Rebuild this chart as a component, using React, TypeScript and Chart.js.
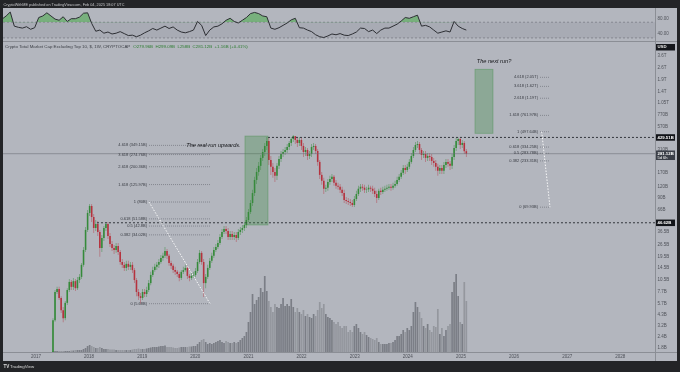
import React, { useEffect, useRef } from "react";
import { Chart, registerables } from "chart.js";

Chart.register(...registerables);
const FONT = "'Liberation Sans', 'DejaVu Sans', Arial, sans-serif";
Chart.defaults.font.family = FONT;

// ---------- axes ----------
const X_MIN = 2016.3788;
const X_MAX = 2028.6529;
const YEAR_TICKS = [2017, 2018, 2019, 2020, 2021, 2022, 2023, 2024, 2025, 2026, 2027, 2028];
const PRICE_MIN = 1.6156;
const PRICE_MAX = 5141;
const PRICE_TICKS = [1.8, 2.4, 3.2, 4.3, 5.7, 7.7, 10.5, 14.5, 19.5, 26.5, 36.5, 66, 90, 120, 170, 310, 570, 770, 1050, 1400, 1900, 2600, 3600];
const RSI_MIN = 22.1;
const RSI_MAX = 106.3;
const RSI_TICKS = [40, 80];
const RSI_UPPER = 70;
const RSI_LOWER = 30;

// ---------- candles (2-week bars, values in billions USD) ----------
const CANDLE_START = 2017.32;
const CANDLE_STEP = 14 / 365.25;
const FIRST_OPEN = 1.6;
const CLOSE = [
  3.7, 7.7, 8.3, 6.6, 4.8, 3.9, 5.8, 8.1, 10.0, 8.8,
  10.2, 8.5, 10.5, 11.4, 15.6, 23, 38.7, 60.2, 72.2, 54.2,
  40.7, 45.2, 36.7, 24.2, 31.4, 40.7, 45.2, 33.1, 26.9, 24.2,
  23, 25.5, 21.8, 16.8, 15.6, 14.4, 16, 14.8, 15.6, 13.6,
  10.5, 7.7, 6.9, 6.6, 7.7, 7.3, 8.1, 9.7, 12, 13.6,
  14.8, 15.6, 16.8, 18.7, 19.7, 22.4, 19.7, 16.4, 15.2, 13.6,
  13, 12.3, 11.1, 13, 13.6, 14.4, 11.7, 11.1, 11.7, 12,
  13.3, 16.8, 21.3, 16.8, 9.7, 11.4, 14.4, 17.3, 19.7, 23,
  24.8, 27.6, 32.2, 36.7, 39.7, 37.7, 32.2, 34.8, 32.2, 33.9,
  31.4, 36.7, 38.7, 40.7, 44, 50.1, 61.7, 78, 101, 142,
  175, 205, 252, 294, 344, 391, 239, 200, 175, 158,
  205, 245, 279, 294, 310, 335, 372, 412, 445, 402,
  372, 402, 344, 294, 310, 265, 279, 335, 344, 302,
  227, 162, 139, 113, 116, 135, 146, 154, 132, 122,
  119, 110, 101, 84.3, 82.2, 80.1, 78, 74, 86.5, 98.6,
  113, 119, 116, 110, 111, 116, 113, 107, 98.6, 88.8,
  107, 104, 110, 113, 116, 119, 116, 122, 128, 142,
  154, 171, 194, 184, 200, 227, 265, 310, 353, 362,
  310, 272, 279, 252, 265, 258, 233, 221, 200, 180,
  194, 180, 210, 227, 216, 205, 258, 327, 391, 412,
  353, 372, 300, 281.12,
];
const HIGH = [
  3.9, 8.1, 8.8, 8.8, 6.9, 5.2, 6.1, 8.5, 10.8, 10.5,
  11.1, 10.8, 11.4, 12.3, 16.4, 24.8, 41.8, 65, 76, 76,
  58.6, 50.1, 48.8, 38.7, 33.9, 42.9, 47.6, 47.6, 35.8, 29,
  26.2, 27.6, 27.6, 23, 18.2, 16.8, 17.3, 17.3, 16.8, 16.8,
  14.4, 11.1, 8.3, 7.5, 8.3, 8.3, 8.8, 10.5, 13, 14.8,
  16, 16.8, 18.2, 20.2, 21.3, 24.8, 23.6, 20.7, 17.3, 16,
  14.8, 13.6, 13, 13.6, 14.8, 15.6, 15.2, 12.3, 12.6, 13,
  14.4, 18.2, 23, 22.4, 18.2, 12.3, 15.6, 18.7, 21.3, 24.8,
  26.9, 29.8, 34.8, 39.7, 42.9, 42.9, 40.7, 37.7, 37.7, 36.7,
  36.7, 39.7, 41.8, 44, 47.6, 54.2, 66.8, 84.3, 110, 154,
  194, 227, 272, 318, 372, 434, 423, 265, 221, 194,
  221, 265, 302, 318, 335, 362, 391, 434, 457, 440,
  423, 434, 423, 372, 335, 327, 302, 362, 372, 362,
  318, 239, 175, 150, 125, 146, 158, 166, 162, 142,
  132, 128, 119, 110, 91.2, 88.8, 86.5, 84.3, 93.6, 107,
  122, 128, 128, 125, 119, 125, 122, 122, 116, 107,
  113, 116, 119, 122, 125, 128, 128, 132, 139, 154,
  166, 184, 210, 210, 216, 245, 287, 335, 381, 391,
  381, 327, 302, 302, 287, 287, 279, 252, 239, 216,
  210, 210, 227, 245, 245, 233, 279, 353, 423, 429.51,
  423, 402, 391, 318,
];
const LOW = [
  1.5, 3.55, 7.3, 6.25, 4.45, 3.5, 3.7, 5.5, 7.7, 8.1,
  8.1, 7.9, 8.1, 9.7, 10.8, 14.8, 21.8, 36.7, 55.6, 47.6,
  35.8, 37.7, 33.1, 19.2, 21.8, 29, 37.7, 30.6, 24.8, 22.4,
  20.7, 21.3, 20.2, 15.6, 14.4, 13.3, 13.3, 13.6, 13.6, 12.6,
  9.7, 6.9, 6.25, 5.68, 6.25, 6.75, 6.75, 7.7, 9.2, 11.4,
  13, 13.6, 14.4, 16, 17.3, 18.7, 18.2, 15.2, 14, 12.6,
  12, 11.4, 10.2, 10.5, 12.3, 13, 10.8, 10.2, 10.5, 11.1,
  11.4, 12.6, 16, 15.6, 6.75, 8.5, 10.8, 13.6, 16.4, 18.7,
  21.8, 23.6, 26.2, 30.6, 34.8, 34.8, 29.8, 29.8, 29.8, 29.8,
  28.3, 29.8, 33.9, 35.8, 37.7, 40.7, 47.6, 58.6, 72.2, 93.6,
  128, 158, 184, 233, 265, 310, 210, 162, 150, 135,
  142, 189, 227, 258, 272, 287, 310, 344, 381, 362,
  335, 344, 310, 258, 265, 239, 245, 258, 310, 279,
  205, 146, 125, 98.6, 104, 107, 125, 135, 122, 113,
  110, 101, 93.6, 78, 76, 74, 72.2, 70.3, 70.3, 82.2,
  93.6, 104, 107, 101, 101, 104, 104, 98.6, 91.2, 78,
  84.3, 96, 98.6, 104, 107, 110, 107, 110, 116, 122,
  135, 146, 162, 166, 175, 189, 216, 252, 294, 327,
  279, 239, 252, 227, 233, 233, 210, 200, 180, 158,
  166, 166, 166, 194, 200, 184, 189, 239, 302, 353,
  318, 327, 279, 258,
];
const VOLUME = [
  2, 2, 2, 2, 2, 2, 2, 2, 2, 3,
  3, 4, 4, 4, 4, 6, 8, 12, 14, 12,
  10, 8, 8, 10, 8, 6, 6, 6, 5, 5,
  5, 4, 4, 4, 4, 4, 4, 4, 4, 5,
  6, 6, 7, 6, 6, 6, 7, 8, 9, 10,
  10, 10, 11, 12, 12, 13, 10, 10, 10, 9,
  8, 8, 9, 10, 10, 10, 10, 11, 11, 12,
  12, 16, 20, 24, 26, 20, 16, 18, 16, 18,
  20, 22, 24, 20, 18, 22, 20, 18, 18, 20,
  18, 20, 24, 28, 32, 40, 60, 80, 116, 96,
  104, 110, 128, 120, 152, 122, 102, 90, 80, 96,
  90, 88, 96, 108, 92, 96, 92, 106, 90, 80,
  88, 80, 76, 84, 72, 76, 70, 68, 76, 72,
  84, 100, 88, 96, 76, 70, 68, 64, 60, 56,
  60, 52, 48, 52, 52, 40, 44, 40, 52, 56,
  48, 40, 36, 40, 34, 30, 28, 26, 24, 28,
  20, 16, 16, 16, 16, 18, 18, 20, 24, 32,
  32, 36, 44, 40, 48, 44, 52, 80, 100, 90,
  80, 68, 52, 48, 56, 44, 40, 52, 50, 86,
  36, 48, 32, 44, 52, 56, 120, 140, 156, 112,
  60, 56, 140, 102,
];
const VOLUME_AXIS_MAX = 620;

// ---------- RSI (every second bar, starting 25 bars before the first candle) ----------
const RSI_FIRST_INDEX = -25;
const RSI = [
  78, 86, 96, 60, 57, 55, 58.6, 52, 56, 82,
  86, 94, 86, 78, 75, 84, 72, 79, 79, 83,
  93, 94, 67, 47, 50, 42, 45, 40, 42, 46,
  41, 36, 37, 33, 37, 43, 48, 54, 50, 55,
  60, 54, 58, 50, 45, 43, 46, 50, 72, 62,
  36, 50, 58, 60, 66, 75, 80, 72, 68, 75,
  82, 92, 95, 92, 86, 84, 55, 52, 56, 62,
  68, 76, 80, 56, 55, 50, 46, 38, 33, 31,
  35, 40, 38, 41, 37, 36, 40, 45, 55, 54,
  46, 50, 41, 50, 55, 55, 60, 65, 73, 82,
  80, 84, 88, 60, 62, 58, 50, 42, 45, 48,
  45, 72, 60, 54, 50,
];

// ---------- drawings ----------
const LAST_PRICE = 281.12;
const KEY_LEVELS = [429.51, 46.62];
const KEY_LEVEL_FROM = [2021.367, 2018.148];

const FIB_RATIOS = ["0", "0.382", "0.5", "0.618", "1", "1.618", "2.618", "3.618", "4.618"];
const LEFT_FIB_VALUES = [5.68, 34.02, 42.8, 51.58, 80, 125.97, 200.36, 274.76, 349.15];
const LEFT_FIB_TEXT = ["5.68B", "34.02B", "42.8B", "51.58B", "80B", "125.97B", "200.36B", "274.76B", "349.15B"];
const LEFT_FIB_SPAN = [2019.127, 2020.276];
const RIGHT_FIB_VALUES = [69.93, 233.31, 283.78, 334.25, 497.64, 761.97, 1190, 1620, 2050];
const RIGHT_FIB_TEXT = ["69.93B", "233.31B", "283.78B", "334.25B", "497.64B", "761.97B", "1.19T", "1.62T", "2.05T"];
const RIGHT_FIB_SPAN = [2026.488, 2026.676];
const RIGHT_FIB_DIAG_START = 2026.52;

const BOX_TIMES = [[2020.934, 2021.367], [2025.264, 2025.603]];
const BOX_VALUES = [[44, 445], [478, 2527]];

const NOTE_TEXT = ["The real run upwards.", "The next run?"];
const NOTE_TIME = [2020.341, 2025.622];
const NOTE_VALUE = [349, 3136];

const PUBLISHED = "CryptoWithME published on TradingView.com, Feb 04, 2025 18:07 UTC";
const TITLE = "Crypto Total Market Cap Excluding Top 10, $, 1W, CRYPTOCAP";
const OHLC_TEXT = "O279.96B  H299.09B  L258B  C281.12B  +1.16B (+0.41%)";
const COUNTDOWN = "5d 6h";

const fmtPrice = (v: number) => (v >= 1000 ? `${+(v / 1000).toFixed(2)}T` : `${v}B`);
const candleTime = (i: number) => CANDLE_START + i * CANDLE_STEP;

const UP = "#358a3a";
const DOWN = "#b5323e";
const UP_WICK = "rgba(53,138,58,0.55)";
const DOWN_WICK = "rgba(181,50,62,0.5)";

function hLine(t0: number, t1: number, v: number, color: string, dash: number[], order = 2) {
  return {
    type: "line" as const,
    yAxisID: "y",
    data: [{ x: t0, y: v }, { x: t1, y: v }],
    borderColor: color,
    borderWidth: 1,
    borderDash: dash,
    pointRadius: 0,
    fill: false,
    order,
  };
}
function seg(t0: number, v0: number, t1: number, v1: number, color: string, dash: number[]) {
  return {
    type: "line" as const,
    yAxisID: "y",
    data: [{ x: t0, y: v0 }, { x: t1, y: v1 }],
    borderColor: color,
    borderWidth: 1,
    borderDash: dash,
    pointRadius: 0,
    fill: false,
    order: 1,
  };
}

const rsiPlugin = {
  id: "rsiText",
  afterDraw(chart: any) {
    const { ctx } = chart;
    ctx.save();
    ctx.font = `3.8px ${FONT}`;
    ctx.fillStyle = "#c4c5c8";
    ctx.textAlign = "left";
    ctx.textBaseline = "middle";
    ctx.fillText(PUBLISHED, 0.5, 4.6);
    ctx.restore();
  },
};

const overlayPlugin = {
  id: "tvOverlays",
  afterDatasetsDraw(chart: any) {
    const { ctx, chartArea: a, scales } = chart;
    const x = scales.x;
    const y = scales.y;
    ctx.save();
    ctx.beginPath();
    ctx.rect(a.left, a.top, a.right - a.left, a.bottom - a.top);
    ctx.clip();
    BOX_TIMES.forEach((bt, j) => {
      const x0 = x.getPixelForValue(bt[0]);
      const x1 = x.getPixelForValue(bt[1]);
      const y0 = y.getPixelForValue(BOX_VALUES[j][1]);
      const y1 = y.getPixelForValue(BOX_VALUES[j][0]);
      ctx.fillStyle = "rgba(60,140,65,0.32)";
      ctx.fillRect(x0, y0, x1 - x0, y1 - y0);
      ctx.strokeStyle = "rgba(60,140,65,0.45)";
      ctx.lineWidth = 0.8;
      ctx.strokeRect(x0, y0, x1 - x0, y1 - y0);
    });
    ctx.font = `4px ${FONT}`;
    ctx.fillStyle = "#383b42";
    ctx.textAlign = "right";
    ctx.textBaseline = "middle";
    FIB_RATIOS.forEach((r, j) => {
      ctx.fillText(`${r} (${LEFT_FIB_TEXT[j]})`, x.getPixelForValue(LEFT_FIB_SPAN[0]) - 2, y.getPixelForValue(LEFT_FIB_VALUES[j]));
      ctx.fillText(`${r} (${RIGHT_FIB_TEXT[j]})`, x.getPixelForValue(RIGHT_FIB_SPAN[0]) - 2, y.getPixelForValue(RIGHT_FIB_VALUES[j]));
    });
    ctx.font = `italic 5.6px ${FONT}`;
    ctx.fillStyle = "#141518";
    ctx.textAlign = "center";
    NOTE_TEXT.forEach((t, j) => {
      ctx.fillText(t, x.getPixelForValue(NOTE_TIME[j]), y.getPixelForValue(NOTE_VALUE[j]));
    });
    ctx.restore();
  },
  afterDraw(chart: any) {
    const { ctx, scales } = chart;
    const y = scales.y;
    const bx = y.left + 1;
    const bw = 19;
    ctx.save();
    ctx.textAlign = "left";
    ctx.textBaseline = "middle";
    ctx.font = `bold 4.3px ${FONT}`;
    // currency box
    ctx.fillStyle = "#15171c";
    ctx.fillRect(bx, 2, bw, 6.5);
    ctx.fillStyle = "#e8e8e8";
    ctx.fillText("USD", bx + 1.5, 5.3);
    const boxes = [
      { v: KEY_LEVELS[0], bg: "#111318", sub: "" },
      { v: KEY_LEVELS[1], bg: "#111318", sub: "" },
      { v: LAST_PRICE, bg: "#3b3f48", sub: COUNTDOWN },
    ];
    boxes.forEach((b) => {
      const py = y.getPixelForValue(b.v);
      const h = b.sub ? 9.5 : 6.5;
      ctx.fillStyle = b.bg;
      ctx.fillRect(bx, py - 3.2, bw, h);
      ctx.fillStyle = "#ffffff";
      ctx.fillText(`${b.v.toFixed(2)}B`, bx + 1.5, py + 0.1);
      if (b.sub) {
        ctx.font = `4px ${FONT}`;
        ctx.fillText(b.sub, bx + 1.5, py + 4.2);
        ctx.font = `bold 4.3px ${FONT}`;
      }
    });
    // header
    ctx.font = `4.4px ${FONT}`;
    ctx.fillStyle = "#3e4148";
    ctx.fillText(TITLE, 2, 4.8);
    const w = ctx.measureText(TITLE).width;
    ctx.fillStyle = "#2e7d32";
    ctx.fillText(OHLC_TEXT, 2 + w + 3, 4.8);
    // footer logo
    ctx.font = `bold 4.6px ${FONT}`;
    ctx.fillStyle = "#dcdcdc";
    ctx.fillText("TV", 0.5, 324.8);
    ctx.font = `4.4px ${FONT}`;
    ctx.fillText("TradingView", 7, 324.8);
    ctx.restore();
  },
};

export default function App() {
  const rsiRef = useRef<HTMLCanvasElement>(null);
  const mainRef = useRef<HTMLCanvasElement>(null);

  useEffect(() => {
    const times = CLOSE.map((_, i) => candleTime(i));
    const opens = CLOSE.map((_, i) => (i === 0 ? FIRST_OPEN : CLOSE[i - 1]));
    const up = CLOSE.map((c, i) => c >= opens[i]);
    const rsiTimes = RSI.map((_, k) => candleTime(RSI_FIRST_INDEX + 2 * k));

    const rsiChart = new Chart(rsiRef.current!, {
      type: "line",
      data: {
        datasets: [
          { data: [{ x: X_MIN, y: RSI_UPPER }, { x: X_MAX, y: RSI_UPPER }], borderColor: "#858890", borderWidth: 1, borderDash: [2, 2], pointRadius: 0, fill: false, order: 2 },
          { data: [{ x: X_MIN, y: RSI_LOWER }, { x: X_MAX, y: RSI_LOWER }], borderColor: "#858890", borderWidth: 1, borderDash: [2, 2], pointRadius: 0, fill: "-1", backgroundColor: "rgba(100,104,116,0.13)", order: 2 },
          {
            data: RSI.map((r, k) => ({ x: rsiTimes[k], y: r })),
            borderColor: "#2c2e33",
            borderWidth: 1,
            pointRadius: 0,
            tension: 0,
            fill: { target: { value: RSI_UPPER }, above: "rgba(84,172,86,0.62)", below: "rgba(0,0,0,0)" },
            order: 1,
          },
        ] as any,
      },
      options: {
        responsive: false,
        animation: false,
        events: [],
        layout: { padding: { top: 8, right: 3, left: 0, bottom: 0 } },
        plugins: { legend: { display: false }, tooltip: { enabled: false } },
        scales: {
          x: { type: "linear", min: X_MIN, max: X_MAX, display: false },
          y: {
            position: "right",
            min: RSI_MIN,
            max: RSI_MAX,
            grid: { display: false, drawTicks: false },
            border: { display: false },
            afterBuildTicks: (s: any) => { s.ticks = RSI_TICKS.map((v) => ({ value: v })); },
            afterFit: (s: any) => { s.width = 22; s.paddingTop = 0; s.paddingBottom = 0; },
            ticks: { autoSkip: false, padding: 2.5, color: "#50535a", font: { size: 4.5 }, callback: (v: any) => Number(v).toFixed(2) },
          },
        },
      } as any,
      plugins: [rsiPlugin],
    });

    const lines: any[] = [
      hLine(X_MIN, X_MAX, LAST_PRICE, "rgba(105,108,116,0.55)", [], 3),
      hLine(KEY_LEVEL_FROM[0], X_MAX, KEY_LEVELS[0], "#33363c", [2, 2]),
      hLine(KEY_LEVEL_FROM[1], X_MAX, KEY_LEVELS[1], "#33363c", [2, 2]),
    ];
    LEFT_FIB_VALUES.forEach((v) => lines.push(hLine(LEFT_FIB_SPAN[0], LEFT_FIB_SPAN[1], v, "rgba(112,115,124,0.7)", [1, 1])));
    RIGHT_FIB_VALUES.forEach((v) => lines.push(hLine(RIGHT_FIB_SPAN[0], RIGHT_FIB_SPAN[1], v, "rgba(112,115,124,0.7)", [1, 1])));
    lines.push(seg(LEFT_FIB_SPAN[0], LEFT_FIB_VALUES[4], LEFT_FIB_SPAN[1], LEFT_FIB_VALUES[0], "rgba(255,255,255,0.9)", [1.5, 1.5]));
    lines.push(seg(RIGHT_FIB_DIAG_START, RIGHT_FIB_VALUES[4], RIGHT_FIB_SPAN[1], RIGHT_FIB_VALUES[0], "rgba(255,255,255,0.9)", [1.5, 1.5]));

    const mainChart = new Chart(mainRef.current!, {
      type: "bar",
      data: {
        datasets: [
          {
            type: "bar",
            yAxisID: "yv",
            data: VOLUME.map((v, i) => ({ x: times[i], y: v })),
            backgroundColor: up.map((u) => (u ? "#7b7e86" : "#94979e")),
            barThickness: 1.7,
            grouped: false,
            inflateAmount: 0,
            order: 10,
          },
          {
            type: "bar",
            yAxisID: "y",
            data: HIGH.map((h, i) => ({ x: times[i], y: [LOW[i], h] })),
            backgroundColor: up.map((u) => (u ? UP_WICK : DOWN_WICK)),
            barThickness: 0.8,
            grouped: false,
            inflateAmount: 0,
            order: 6,
          },
          {
            type: "bar",
            yAxisID: "y",
            data: CLOSE.map((c, i) => ({ x: times[i], y: [opens[i], c] })),
            backgroundColor: up.map((u) => (u ? UP : DOWN)),
            barThickness: 1.6,
            grouped: false,
            inflateAmount: 0,
            order: 5,
          },
          ...lines,
        ] as any,
      },
      options: {
        responsive: false,
        animation: false,
        events: [],
        layout: { padding: { top: 0, right: 3, left: 0, bottom: 11 } },
        plugins: { legend: { display: false }, tooltip: { enabled: false } },
        scales: {
          x: {
            type: "linear",
            min: X_MIN,
            max: X_MAX,
            offset: false,
            grid: { display: false, drawTicks: false },
            border: { display: false },
            afterBuildTicks: (s: any) => { s.ticks = YEAR_TICKS.map((v) => ({ value: v })); },
            afterFit: (s: any) => { s.height = 9; s.paddingLeft = 0; s.paddingRight = 0; },
            ticks: { autoSkip: false, maxRotation: 0, padding: 2, color: "#4d5058", font: { size: 4.5 }, callback: (v: any) => String(v) },
          },
          y: {
            type: "logarithmic",
            position: "right",
            min: PRICE_MIN,
            max: PRICE_MAX,
            grid: { display: false, drawTicks: false },
            border: { display: false },
            afterBuildTicks: (s: any) => { s.ticks = PRICE_TICKS.map((v) => ({ value: v })); },
            afterFit: (s: any) => { s.width = 22; s.paddingTop = 0; s.paddingBottom = 0; },
            ticks: { autoSkip: false, padding: 2.5, color: "#50535a", font: { size: 4.5 }, callback: (v: any) => fmtPrice(Number(v)) },
          },
          yv: { type: "linear", display: false, min: 0, max: VOLUME_AXIS_MAX, grid: { display: false } },
        },
      } as any,
      plugins: [overlayPlugin],
    });

    return () => {
      rsiChart.destroy();
      mainChart.destroy();
    };
  }, []);

  const line = (s: React.CSSProperties) => <div style={{ position: "absolute", background: "#8b8e95", ...s }} />;

  return (
    <div style={{ position: "fixed", left: 0, top: 0, width: 680, height: 372, background: "#232427", overflow: "hidden" }}>
      <div style={{ position: "absolute", left: 3, top: 8, width: 674, height: 353, background: "#b3b6be" }} />
      {line({ left: 655, top: 8, width: 1, height: 353 })}
      {line({ left: 3, top: 41, width: 674, height: 1 })}
      {line({ left: 3, top: 352, width: 674, height: 1 })}
      <canvas ref={rsiRef} width={677} height={41} style={{ position: "absolute", left: 3, top: 0, width: 677, height: 41 }} />
      <canvas ref={mainRef} width={677} height={330} style={{ position: "absolute", left: 3, top: 42, width: 677, height: 330 }} />
    </div>
  );
}
